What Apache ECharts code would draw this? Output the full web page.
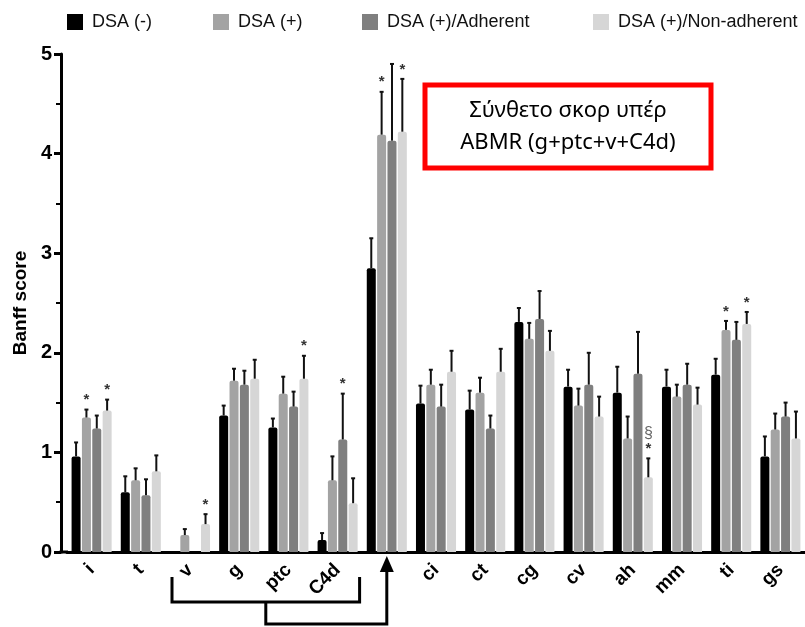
<!DOCTYPE html>
<html>
<head>
<meta charset="utf-8">
<script src="https://cdn.jsdelivr.net/npm/echarts@6/dist/echarts.min.js"></script>
<style>html,body{margin:0;padding:0;background:#fff}#c{width:805px;height:627px}</style>
</head>
<body>
<div id="c"></div>
<script>
var categories = ['i','t','v','g','ptc','C4d','','ci','ct','cg','cv','ah','mm','ti','gs'];
var seriesNames = ['DSA (-)','DSA (+)','DSA (+)/Adherent','DSA (+)/Non-adherent'];
var dsaNeg     = [0.96,0.60,0,   1.37,1.25,0.12,2.85,1.49,1.43,2.31,1.66,1.60,1.66,1.78,0.96];
var dsaNegErr  = [1.10,0.76,null,1.47,1.34,0.19,3.15,1.67,1.62,2.45,1.83,1.86,1.83,1.94,1.16];
var dsaPos     = [1.35,0.72,0.17,1.72,1.59,0.72,4.19,1.68,1.60,2.14,1.47,1.14,1.56,2.23,1.23];
var dsaPosErr  = [1.43,0.84,0.23,1.84,1.76,0.96,4.62,1.83,1.75,2.30,1.64,1.36,1.68,2.32,1.39];
var adherent   = [1.24,0.57,0,   1.68,1.46,1.13,4.13,1.46,1.24,2.34,1.68,1.79,1.68,2.13,1.36];
var adherentErr= [1.37,0.73,null,1.82,1.61,1.59,4.90,1.68,1.37,2.62,2.00,2.21,1.89,2.31,1.50];
var nonAdh     = [1.42,0.81,0.28,1.74,1.74,0.49,4.22,1.81,1.81,2.02,1.36,0.75,1.48,2.29,1.14];
var nonAdhErr  = [1.53,0.97,0.38,1.93,1.97,0.74,4.75,2.02,2.04,2.22,1.56,0.94,1.65,2.41,1.41];
var dsaNegMark = ['','','','','','','','','','','','','','',''];
var dsaPosMark = ['*','','','','','','*','','','','','','','*',''];
var adherentMark = ['','','','','','*','','','','','','','','',''];
var nonAdhMark = ['*','','*','','*','','*','','','','','§\n*','','*',''];
var yTicks = [0,1,2,3,4,5];

var colors = ['#000000','#a3a3a3','#7f7f7f','#d6d6d6'];
var values = [dsaNeg, dsaPos, adherent, nonAdh];
var errs = [dsaNegErr, dsaPosErr, adherentErr, nonAdhErr];
var marks = [dsaNegMark, dsaPosMark, adherentMark, nonAdhMark];

var BAR_W = 9, BAR_GAP = 1.35;

var chart = echarts.init(document.getElementById('c'));
var series = [];
values.forEach(function(v, k){
  series.push({
    name: seriesNames[k], type: 'bar', data: v, barWidth: BAR_W, barGap: '15%',
    itemStyle: {color: colors[k], borderRadius: [2,2,0,0]}, z: 2
  });
});
values.forEach(function(v, k){
  var d = v.map(function(val, i){ return [i, val, errs[k][i], marks[k][i]]; })
           .filter(function(x){ return x[2] != null; });
  var off = (k - 1.5) * (BAR_W + BAR_GAP);
  series.push({
    type: 'custom', name: seriesNames[k] + ' err', data: d, z: 3,
    renderItem: function(params, api){
      var c = api.coord([api.value(0), api.value(1)]);
      var t = api.coord([api.value(0), api.value(2)]);
      var x = c[0] + off;
      var ch = [
        {type:'line', shape:{x1:x, y1:c[1], x2:x, y2:t[1]}, style:{stroke:'#111', lineWidth:2}},
        {type:'line', shape:{x1:x-2, y1:t[1], x2:x+2, y2:t[1]}, style:{stroke:'#111', lineWidth:2}}
      ];
      var m = d[params.dataIndex][3];
      if (m) {
        var lines = m.split('\n');
        lines.forEach(function(s, j){
          var dy = (lines.length - 1 - j) * 15;
          ch.push({type:'text', style:{text:s, x:x, y:t[1] - 2 - dy, align:'center', verticalAlign:'bottom',
            fill: s === '§' ? '#666' : '#333', font: s === '§' ? '16px "Liberation Sans", Arial' : 'bold 15px "Liberation Sans", Arial'}});
        });
      }
      return {type:'group', children: ch};
    }
  });
});

var legendX = [62, 208, 357, 588];
var legends = seriesNames.map(function(n, k){
  return {data:[n], left: legendX[k], top: 8, itemWidth: 16, itemHeight: 16, itemGap: 10,
    icon: 'rect', selectedMode: false,
    textStyle: {fontSize: 18, color: '#111', fontFamily: '"Liberation Sans", Arial', padding:[0,0,0,4]}};
});

chart.setOption({
  animation: false,
  legend: legends,
  grid: {left: 67, right: -3, top: 54, bottom: 75, containLabel: false},
  xAxis: {
    type: 'category', data: categories,
    axisLine: {lineStyle: {color: '#000', width: 3}},
    axisTick: {alignWithLabel: true, length: 6, lineStyle: {color:'#000', width: 3}},
    axisLabel: {rotate: 45, margin: 15, fontSize: 19, fontWeight: 'bold', color: '#000',
      fontFamily: '"Liberation Sans", Arial'}
  },
  yAxis: {
    type: 'value', min: 0, max: 5, interval: 1, offset: 6,
    name: 'Banff score', nameLocation: 'middle', nameGap: 30,
    nameTextStyle: {fontSize: 19, fontWeight: 'bold', color: '#000', fontFamily: '"Liberation Sans", Arial'},
    axisLine: {show: true, lineStyle: {color: '#000', width: 3}},
    axisTick: {show: true, length: 7, lineStyle: {color:'#000', width: 3}},
    minorTick: {show: true, splitNumber: 2, length: 5, lineStyle: {color:'#000', width: 2}},
    splitLine: {show: false},
    axisLabel: {fontSize: 20, fontWeight: 'bold', color: '#000', margin: 9,
      fontFamily: '"Liberation Sans", Arial',
      formatter: function(v){ return yTicks.indexOf(v) >= 0 ? String(v) : ''; }}
  },
  series: series
});

var px = function(cat){ return chart.convertToPixel({xAxisIndex:0}, cat); };
var y0 = chart.convertToPixel({yAxisIndex:0}, 0);
var xv = px(2), xc = px(5), xComp = px(6);
var left = xv - 18, right = xc + 22, mid = (left + right) / 2;
var lw = 3, st = {stroke:'#000', lineWidth: lw, fill: null};
chart.setOption({
  graphic: [
    {type:'line', shape:{x1:59.5, y1:y0, x2:68, y2:y0}, style:{stroke:'#000', lineWidth:3}},
    {type:'polyline', shape:{points:[[left, y0+25],[left, y0+50],[right, y0+50],[right, y0+25]]}, style: st},
    {type:'polyline', shape:{points:[[mid, y0+50],[mid, y0+72],[xComp, y0+72],[xComp, y0+18]]}, style: st},
    {type:'polygon', shape:{points:[[xComp, y0+4],[xComp-7, y0+20],[xComp+7, y0+20]]}, style:{fill:'#000'}},
    {type:'rect', shape:{x:425, y:85, width:286, height:83}, style:{stroke:'#ff0000', lineWidth:5, fill:'#fff'}, z: 10},
    {type:'text', z: 11, style:{text:'Σύνθετο σκορ υπέρ\nABMR (g+ptc+v+C4d)', x:568, y:127, align:'center', verticalAlign:'middle',
      font:'22px "Noto Sans"', lineHeight: 32, fill:'#000'}}
  ]
});
</script>
</body>
</html>
